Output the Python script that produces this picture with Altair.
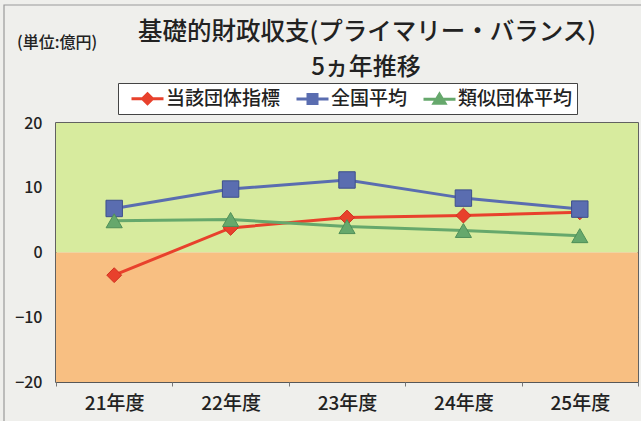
import altair as alt
import pandas as pd

years = ["21年度", "22年度", "23年度", "24年度", "25年度"]
series_names = ["当該団体指標", "全国平均", "類似団体平均"]
own_values = [-3.5, 3.8, 5.4, 5.7, 6.2]
national_values = [6.8, 9.8, 11.2, 8.4, 6.7]
similar_values = [4.9, 5.1, 4.0, 3.4, 2.6]
series_colors = ["#e8412c", "#5a6db0", "#66a86c"]
marker_shapes = ["diamond", "square", "triangle-up"]

band_lo = [0, -20]
band_hi = [20, 0]
band_colors = ["#d7eb9e", "#f8bf82"]

W, H = 582, 259
FONT = "Noto Sans CJK JP"

rows = []
for name, vals in zip(series_names, [own_values, national_values, similar_values]):
    for y, v in zip(years, vals):
        rows.append({"year": y, "series": name, "value": v})
df = pd.DataFrame(rows)

bands = pd.DataFrame({"lo": band_lo, "hi": band_hi, "c": band_colors})

color_scale = alt.Scale(domain=series_names, range=series_colors)
xenc = alt.X("year:N", sort=years, title=None,
             scale=alt.Scale(paddingInner=0, paddingOuter=0),
             axis=alt.Axis(labelAngle=0, tickBand="extent", labelFontSize=19,
                           labelFont=FONT, labelFontWeight=500, labelColor="#222",
                           labelPadding=8, tickSize=4, tickColor="#777",
                           domain=False, grid=False))
yenc = alt.Y("value:Q", title=None,
             scale=alt.Scale(domain=[-20, 20], nice=False),
             axis=alt.Axis(values=[-20, -10, 0, 10, 20], ticks=False, labelPadding=14,
                           labelFontSize=16, labelFont=FONT, labelFontWeight=500,
                           labelColor="#222", domain=False, grid=True,
                           gridColor="#555", gridWidth=1, gridOpacity=0.8))

frame = alt.Chart(pd.DataFrame({"k": [0]})).mark_rect(
    fill="transparent", stroke="#9a9a9a", strokeWidth=1.2
).encode(x=alt.value(-52), y=alt.value(-118), x2=alt.value(610), y2=alt.value(320))

bg = alt.Chart(bands).mark_rect().encode(
    y=alt.Y("lo:Q", scale=alt.Scale(domain=[-20, 20], nice=False)),
    y2="hi:Q",
    x=alt.value(0), x2=alt.value(W),
    color=alt.Color("c:N", scale=None),
)

base = alt.Chart(df)
lines = base.mark_line(strokeWidth=3).encode(
    x=xenc, y=yenc,
    color=alt.Color("series:N", scale=color_scale, sort=series_names,
                    legend=alt.Legend(title=None, orient="none", legendX=62, legendY=-40,
                                      direction="horizontal", fillColor="white",
                                      strokeColor="#444", padding=4,
                                      labelFont=FONT, labelFontSize=19, labelFontWeight=500,
                                      labelColor="#222", symbolSize=400,
                                      symbolStrokeWidth=3, labelOffset=21,
                                      columnPadding=6)),
)

pt_layers = []
sizes = [220, 270, 260]
strokes = ["#d03020", "#3d4f8c", "#4f8f58"]
for name, shp, sz, sc in zip(series_names, marker_shapes, sizes, strokes):
    pt_layers.append(
        base.transform_filter(alt.datum.series == name).mark_point(
            filled=True, shape=shp, size=sz, opacity=1, stroke=sc, strokeWidth=1
        ).encode(x=xenc, y=yenc, color=alt.Color("series:N", scale=color_scale, sort=series_names))
    )

# legend symbol paths: line + marker
leg_paths = [
    "M-0.2,0H3.0M1.4,-0.5L1.9,0L1.4,0.5L0.9,0Z",
    "M-0.2,0H3.0M0.95,-0.45H1.85V0.45H0.95Z",
    "M-0.2,0H3.0M1.4,-0.5L1.95,0.42H0.85Z",
]
legend_layer = base.mark_point(filled=True, size=400, opacity=1, strokeWidth=3).encode(
    x=alt.value(-2000), y=alt.value(-2000),
    color=alt.Color("series:N", scale=color_scale, sort=series_names),
    stroke=alt.Stroke("series:N", scale=color_scale, sort=series_names),
    shape=alt.Shape("series:N", scale=alt.Scale(domain=series_names, range=leg_paths),
                    sort=series_names),
)

title1 = alt.Chart(pd.DataFrame({"t": ["基礎的財政収支(プライマリー・バランス)"]})).mark_text(
    font=FONT, fontSize=24.5, fontWeight=500, color="#222", baseline="middle", align="center"
).encode(text="t:N", x=alt.value(311), y=alt.value(-90))
title2 = alt.Chart(pd.DataFrame({"t": ["5ヵ年推移"]})).mark_text(
    font=FONT, fontSize=24, fontWeight=500, color="#222", baseline="middle", align="center"
).encode(text="t:N", x=alt.value(310), y=alt.value(-55))
unit = alt.Chart(pd.DataFrame({"t": ["(単位:億円)"]})).mark_text(
    font=FONT, fontSize=16, fontWeight=500, color="#222", baseline="middle", align="left"
).encode(text="t:N", x=alt.value(-39), y=alt.value(-80))

chart = alt.layer(frame, bg, lines, *pt_layers, legend_layer, title1, title2, unit).properties(
    width=W, height=H,
    autosize=alt.AutoSizeParams(type="none"),
    padding={"left": 56, "top": 123, "right": 3, "bottom": 39},
).configure(background="#efefec").configure_view(stroke="#333", strokeWidth=1.5)

chart.save("out.html", embed_options={"renderer": "svg", "actions": False})
